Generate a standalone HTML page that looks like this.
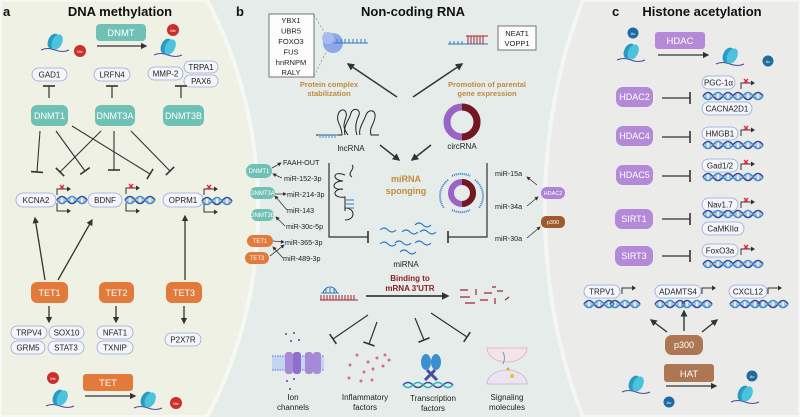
<!DOCTYPE html>
<html><head><meta charset="utf-8"><style>
html,body{margin:0;padding:0;background:#fff;width:800px;height:417px;overflow:hidden}
svg{display:block;font-family:"Liberation Sans",sans-serif}
</style></head><body>
<svg width="800" height="417" viewBox="0 0 800 417" xmlns="http://www.w3.org/2000/svg" overflow="hidden">
<defs>
<marker id="ar" viewBox="0 0 10 10" refX="8" refY="5" markerWidth="5" markerHeight="5" orient="auto"><path d="M0,0L10,5L0,10z" fill="#333"/></marker>
<marker id="tb" viewBox="0 0 4 12" refX="2" refY="6" markerWidth="4" markerHeight="12" markerUnits="userSpaceOnUse" orient="auto"><path d="M2,0V12" stroke="#333" stroke-width="1.6"/></marker>
<g id="dna"><path d="M0,0q5,-7 10,0t10,0t10,0" fill="none" stroke="#2d4f9e" stroke-width="1.6"/><path d="M0,0q5,7 10,0t10,0t10,0" fill="none" stroke="#3e8bd0" stroke-width="1.6"/><path d="M3,-2v4M7,-2v4M13,-2v4M17,-2v4M23,-2v4M27,-2v4" stroke="#5a86c8" stroke-width="0.8"/></g>
<g id="prom"><path d="M0,6V0h10" fill="none" stroke="#333" stroke-width="1"/><path d="M10,-2.5L14,0L10,2.5z" fill="#333"/></g>
<g id="promx"><use href="#prom"/><path d="M3,-4l4,4M7,-4l-4,4" stroke="#e23" stroke-width="1.3"/></g>
<g id="nuc"><path d="M-14,8q6,-3 14,0t14,0" fill="none" stroke="#4a4aa0" stroke-width="1"/><ellipse cx="-2" cy="0" rx="5" ry="8" fill="#2a9bc0" transform="rotate(25)"/><ellipse cx="2" cy="-1" rx="5" ry="8" fill="#4cc3dc" transform="rotate(25)"/></g>
</defs>

<rect width="800" height="417" fill="#e5ecea"/>
<path d="M0,0H207A349,400 0 0 1 207,417H0Z" fill="#eff1e4" stroke="#f6f8f3" stroke-width="4"/>
<path d="M800,0H583A260,400 0 0 0 583,417H800Z" fill="#ebebea" stroke="#f4f6f4" stroke-width="4"/>

<text x="3" y="16" font-size="13" font-weight="bold" fill="#111">a</text>
<text x="120" y="16" font-size="13" font-weight="bold" fill="#111" text-anchor="middle">DNA methylation</text>
<use href="#nuc" x="55" y="42"/><circle cx="80" cy="51" r="6" fill="#c9302c"/><text x="80" y="53" font-size="4" fill="#fff" text-anchor="middle">Me</text>
<rect x="96" y="24" width="50" height="17" rx="4" fill="#6fc1b5"/><text x="121" y="36" font-size="9.5" fill="#fff" text-anchor="middle">DNMT</text>
<line x1="97" y1="46" x2="146" y2="46" stroke="#333" stroke-width="1.3" marker-end="url(#ar)"/>
<use href="#nuc" x="168" y="47"/><circle cx="173" cy="30" r="6" fill="#c9302c"/><text x="173" y="32" font-size="4" fill="#fff" text-anchor="middle">Me</text>

<g font-size="8" fill="#222" text-anchor="middle">
<rect x="32" y="68" width="35" height="13" rx="6.5" fill="#f3f5fa" stroke="#97a8d8" stroke-width="0.8"/><text x="49.5" y="77.5">GAD1</text>
<rect x="94" y="68" width="36" height="13" rx="6.5" fill="#f3f5fa" stroke="#97a8d8" stroke-width="0.8"/><text x="112" y="77.5">LRFN4</text>
<rect x="148" y="67" width="35" height="13" rx="6.5" fill="#f3f5fa" stroke="#97a8d8" stroke-width="0.8"/><text x="165.5" y="76.5">MMP-2</text>
<rect x="184" y="61" width="34" height="12" rx="6" fill="#f3f5fa" stroke="#97a8d8" stroke-width="0.8"/><text x="201" y="70">TRPA1</text>
<rect x="184" y="75" width="34" height="12" rx="6" fill="#f3f5fa" stroke="#97a8d8" stroke-width="0.8"/><text x="201" y="84">PAX6</text>
</g>
<g stroke="#333" stroke-width="1.2">
<line x1="49" y1="98" x2="49" y2="86" marker-end="url(#tb)"/>
<line x1="112" y1="98" x2="112" y2="86" marker-end="url(#tb)"/>
<line x1="181" y1="98" x2="181" y2="86" marker-end="url(#tb)"/>
</g>
<g font-size="9" fill="#fff" text-anchor="middle">
<rect x="31" y="105" width="37" height="21" rx="6" fill="#6fc1b5"/><text x="49.5" y="119">DNMT1</text>
<rect x="95" y="105" width="40" height="21" rx="6" fill="#6fc1b5"/><text x="115" y="119">DNMT3A</text>
<rect x="163" y="105" width="41" height="21" rx="6" fill="#6fc1b5"/><text x="183.5" y="119">DNMT3B</text>
</g>
<g stroke="#333" stroke-width="1.1">
<line x1="40" y1="131" x2="37" y2="172" marker-end="url(#tb)"/>
<line x1="56" y1="131" x2="85" y2="171" marker-end="url(#tb)"/>
<line x1="72" y1="126" x2="150" y2="174" marker-end="url(#tb)"/>
<line x1="101" y1="131" x2="60" y2="172" marker-end="url(#tb)"/>
<line x1="114" y1="131" x2="114" y2="170" marker-end="url(#tb)"/>
<line x1="131" y1="131" x2="170" y2="171" marker-end="url(#tb)"/>
</g>
<g font-size="8" fill="#222" text-anchor="middle">
<rect x="16" y="193" width="40" height="14" rx="7" fill="#f3f5fa" stroke="#97a8d8" stroke-width="0.8"/><text x="36" y="203">KCNA2</text>
<rect x="88" y="193" width="34" height="14" rx="7" fill="#f3f5fa" stroke="#97a8d8" stroke-width="0.8"/><text x="105" y="203">BDNF</text>
<rect x="163" y="193" width="40" height="14" rx="7" fill="#f3f5fa" stroke="#97a8d8" stroke-width="0.8"/><text x="183" y="203">OPRM1</text>
</g>
<use href="#dna" x="57" y="200"/><use href="#promx" x="57" y="189"/><path d="M57,203v8h10" stroke="#333" fill="none"/><path d="M67,208.5L71,211L67,213.5z" fill="#333"/>
<use href="#dna" x="125" y="200"/><use href="#promx" x="126" y="188"/><path d="M126,203v8h10" stroke="#333" fill="none"/><path d="M136,208.5L140,211L136,213.5z" fill="#333"/>
<use href="#dna" x="202" y="201"/><use href="#promx" x="204" y="189"/><path d="M204,204v8h10" stroke="#333" fill="none"/><path d="M214,209.5L218,212L214,214.5z" fill="#333"/>
<g stroke="#333" stroke-width="1.3">
<line x1="45" y1="280" x2="35" y2="218" marker-end="url(#ar)"/>
<line x1="58" y1="280" x2="92" y2="220" marker-end="url(#ar)"/>
<line x1="185" y1="280" x2="185" y2="216" marker-end="url(#ar)"/>
<line x1="49" y1="306" x2="49" y2="322" marker-end="url(#ar)"/>
<line x1="116" y1="306" x2="116" y2="322" marker-end="url(#ar)"/>
<line x1="184" y1="306" x2="184" y2="323" marker-end="url(#ar)"/>
</g>
<g font-size="9" fill="#fff" text-anchor="middle">
<rect x="31" y="282" width="37" height="21" rx="6" fill="#e27a3b"/><text x="49.5" y="296">TET1</text>
<rect x="99" y="282" width="35" height="21" rx="6" fill="#e27a3b"/><text x="116.5" y="296">TET2</text>
<rect x="166" y="282" width="36" height="21" rx="6" fill="#e27a3b"/><text x="184" y="296">TET3</text>
</g>
<g font-size="8" fill="#222" text-anchor="middle">
<rect x="11" y="326" width="36" height="13" rx="6.5" fill="#f3f5fa" stroke="#97a8d8" stroke-width="0.8"/><text x="29" y="335.5">TRPV4</text>
<rect x="49" y="326" width="35" height="13" rx="6.5" fill="#f3f5fa" stroke="#97a8d8" stroke-width="0.8"/><text x="66.5" y="335.5">SOX10</text>
<rect x="11" y="341" width="34" height="13" rx="6.5" fill="#f3f5fa" stroke="#97a8d8" stroke-width="0.8"/><text x="28" y="350.5">GRM5</text>
<rect x="48" y="341" width="36" height="13" rx="6.5" fill="#f3f5fa" stroke="#97a8d8" stroke-width="0.8"/><text x="66" y="350.5">STAT3</text>
<rect x="97" y="326" width="36" height="13" rx="6.5" fill="#f3f5fa" stroke="#97a8d8" stroke-width="0.8"/><text x="115" y="335.5">NFAT1</text>
<rect x="97" y="341" width="36" height="13" rx="6.5" fill="#f3f5fa" stroke="#97a8d8" stroke-width="0.8"/><text x="115" y="350.5">TXNIP</text>
<rect x="165" y="333" width="36" height="13" rx="6.5" fill="#f3f5fa" stroke="#97a8d8" stroke-width="0.8"/><text x="183" y="342.5">P2X7R</text>
</g>
<use href="#nuc" x="60" y="398"/><circle cx="53" cy="378" r="6" fill="#c9302c"/><text x="53" y="380" font-size="4" fill="#fff" text-anchor="middle">Me</text>
<rect x="83" y="374" width="50" height="17" rx="3" fill="#e27a3b"/><text x="108" y="386" font-size="9.5" fill="#fff" text-anchor="middle">TET</text>
<line x1="85" y1="396" x2="135" y2="396" stroke="#333" stroke-width="1.3" marker-end="url(#ar)"/>
<use href="#nuc" x="148" y="400"/><circle cx="176" cy="403" r="6" fill="#c9302c"/><text x="176" y="405" font-size="4" fill="#fff" text-anchor="middle">Me</text>

<text x="236" y="16" font-size="13" font-weight="bold" fill="#111">b</text>
<text x="413" y="16" font-size="13" font-weight="bold" fill="#111" text-anchor="middle">Non-coding RNA</text>
<rect x="269" y="14" width="45" height="63" fill="#fbfcfb" stroke="#555" stroke-width="0.8"/>
<g font-size="7.5" fill="#222" text-anchor="middle"><text x="291" y="23">YBX1</text><text x="291" y="33.5">UBR5</text><text x="291" y="44">FOXO3</text><text x="291" y="54.5">FUS</text><text x="291" y="65">hnRNPM</text><text x="291" y="75">RALY</text></g>
<path d="M314,15L326,35M314,76L326,52" stroke="#888" stroke-dasharray="2,2" stroke-width="0.7"/>
<circle cx="333" cy="43" r="10" fill="#8fa7e8"/><circle cx="328" cy="38" r="6" fill="#a8bbf0"/>
<path d="M334,43h34M337,43v-4M341,43v-4M345,43v-4M349,43v-4M353,43v-4M357,43v-4M361,43v-4M365,43v-4" stroke="#2f7cc0" stroke-width="1"/>
<rect x="498" y="26" width="38" height="24" fill="#fbfcfb" stroke="#555" stroke-width="0.8"/>
<text x="517" y="36" font-size="7.5" fill="#222" text-anchor="middle">NEAT1</text><text x="517" y="46" font-size="7.5" fill="#222" text-anchor="middle">VOPP1</text>
<path d="M448,44h40M450,44v-3M454,44v-3M458,44v-3M462,44v-3" stroke="#2f7cc0" stroke-width="1"/>
<path d="M466,36h22M468,36v8M471,36v8M474,36v8M477,36v8M480,36v8M483,36v8" stroke="#a42430" stroke-width="1"/>
<g font-size="7.5" font-weight="bold" fill="#c28b3c" text-anchor="middle"><text x="329" y="87">Protein complex</text><text x="329" y="96">stabilization</text><text x="487" y="87">Promotion of parental</text><text x="487" y="96">gene expression</text></g>
<g stroke="#333" stroke-width="1.5">
<line x1="397" y1="97" x2="348" y2="64" marker-end="url(#ar)"/>
<line x1="413" y1="97" x2="462" y2="64" marker-end="url(#ar)"/>
<line x1="380" y1="145" x2="399" y2="160" marker-end="url(#ar)"/>
<line x1="431" y1="145" x2="412" y2="160" marker-end="url(#ar)"/>
</g>
<g fill="none" stroke="#222" stroke-width="1">
<path d="M316,135h26c0,-10 -6,-12 -4,-20c2,-8 10,-6 8,2c-2,6 -4,10 2,18M345,135c-2,-10 4,-14 6,-22c2,-6 10,-4 8,2c-4,8 -4,14 -2,20M360,135c-2,-6 4,-14 6,-20c2,-6 10,-6 9,2c-1,8 -6,10 -4,18h8"/>
</g>
<path d="M318,135h20M320,135v3M323,135v3M326,135v3M329,135v3M332,135v3M335,135v3" stroke="#2f7cc0" stroke-width="0.8"/>
<text x="351" y="151" font-size="8" fill="#222" text-anchor="middle">lncRNA</text>
<circle cx="462" cy="122" r="15" fill="none" stroke="#9a63c8" stroke-width="7"/>
<path d="M462,107a15,15 0 0 1 0,30" fill="none" stroke="#741820" stroke-width="7"/>
<text x="462" y="149" font-size="8" fill="#222" text-anchor="middle">circRNA</text>
<text x="406" y="182" font-size="9" font-weight="bold" fill="#c28b3c" text-anchor="middle">miRNA</text>
<text x="406" y="194" font-size="9" font-weight="bold" fill="#c28b3c" text-anchor="middle">sponging</text>
<path d="M345,175c-12,-5 -14,5 -2,6c-12,0 -12,10 0,8c-12,0 -10,10 2,8v14M345,198v10c4,0 8,2 8,6c0,4 -4,6 -8,6M352,165c4,4 -6,8 0,12" fill="none" stroke="#222" stroke-width="1"/>
<path d="M346,200h8M346,204h8M346,208h8" stroke="#2f7cc0" stroke-width="1"/>
<circle cx="462" cy="193" r="11" fill="none" stroke="#9a63c8" stroke-width="6"/>
<path d="M462,182a11,11 0 0 1 0,22" fill="none" stroke="#741820" stroke-width="6"/>
<path d="M448,180a20,20 0 0 0 -4,28M475,180a20,20 0 0 1 4,28M452,176a20,20 0 0 1 18,0M452,210a20,20 0 0 0 18,0" fill="none" stroke="#2f7cc0" stroke-width="2" stroke-dasharray="1,1"/>
<g fill="none" stroke="#333" stroke-width="1.2">
<path d="M329,163V237H368" marker-end="url(#tb)"/>
<path d="M487,163V237H448" marker-end="url(#tb)"/>
</g>
<g fill="none" stroke="#2f7cc0" stroke-width="1.1">
<path d="M380,230q4,-4 8,0t8,0M395,243q4,-4 8,0t8,0M402,232q4,-4 8,0t8,0M415,243q4,-4 8,0t8,0M380,244q4,-4 8,0t8,0M400,252q4,-4 8,0t8,0M415,225q4,-4 8,0t8,0M420,232q4,-4 8,0t8,0"/>
</g>
<text x="406" y="267" font-size="8" fill="#222" text-anchor="middle">miRNA</text>
<g font-size="6" fill="#fff" text-anchor="middle">
<rect x="246" y="164" width="26" height="14" rx="7" fill="#6fc1b5"/><text x="259" y="173">DNMT1</text>
<rect x="250" y="187" width="25" height="12" rx="6" fill="#6fc1b5"/><text x="262.5" y="195">DNMT3A</text>
<rect x="251" y="209" width="23" height="12" rx="6" fill="#6fc1b5"/><text x="262.5" y="217">DNMT3B</text>
<rect x="247" y="235" width="26" height="12" rx="6" fill="#e27a3b"/><text x="260" y="243">TET1</text>
<rect x="245" y="252" width="24" height="12" rx="6" fill="#e27a3b"/><text x="257" y="260">TET3</text>
</g>
<g font-size="7.2" fill="#222">
<text x="283" y="165">FAAH-OUT</text><text x="284" y="181">miR-152-3p</text><text x="287" y="197">miR-214-3p</text><text x="287" y="213">miR-143</text><text x="286" y="229">miR-30c-5p</text><text x="285" y="245">miR-365-3p</text><text x="283" y="261">miR-489-3p</text>
<text x="495" y="176">miR-15a</text><text x="495" y="209">miR-34a</text><text x="495" y="241">miR-30a</text>
</g>
<g stroke="#333" stroke-width="0.8">
<line x1="272" y1="168" x2="281" y2="163" marker-end="url(#ar)"/>
<line x1="282" y1="178" x2="273" y2="174" marker-end="url(#ar)"/>
<line x1="275" y1="194" x2="286" y2="194" marker-end="url(#ar)"/>
<line x1="287" y1="210" x2="275" y2="196" marker-end="url(#ar)"/>
<line x1="285" y1="226" x2="276" y2="217" marker-end="url(#ar)"/>
<line x1="273" y1="241" x2="284" y2="242" marker-end="url(#ar)"/>
<line x1="283" y1="258" x2="273" y2="247" marker-end="url(#ar)"/>
<line x1="270" y1="256" x2="284" y2="245" marker-end="url(#ar)"/>
<line x1="537" y1="185" x2="527" y2="177" marker-end="url(#ar)"/>
<line x1="527" y1="206" x2="538" y2="197" marker-end="url(#ar)"/>
<line x1="527" y1="238" x2="540" y2="227" marker-end="url(#ar)"/>
</g>
<rect x="541" y="187" width="24" height="12" rx="6" fill="#b083d6"/><text x="553" y="195" font-size="5.5" fill="#fff" text-anchor="middle">HDAC2</text>
<rect x="541" y="216" width="24" height="12" rx="5" fill="#9e5c2e"/><text x="553" y="224" font-size="5.5" fill="#fff" text-anchor="middle">p300</text>
<text x="410" y="281" font-size="8" font-weight="bold" fill="#8e1f22" text-anchor="middle">Binding to</text>
<text x="410" y="291" font-size="8" font-weight="bold" fill="#8e1f22" text-anchor="middle">mRNA 3'UTR</text>
<path d="M320,300h38M321,300v-5M324,300v-5M327,300v-5M330,300v-5M333,300v-5M336,300v-5M339,300v-5M342,300v-5M345,300v-5M348,300v-5M351,300v-5M354,300v-5" stroke="#a42430" stroke-width="1"/>
<path d="M321,293h18M323,293c2,-8 12,-8 14,0M326,293v-4M330,293v-5M334,293v-4" stroke="#2f7cc0" stroke-width="1" fill="none"/>
<line x1="366" y1="296" x2="448" y2="296" stroke="#222" stroke-width="1.5" marker-end="url(#ar)"/>
<g stroke="#a42430" stroke-width="1.2" fill="none">
<path d="M460,290h8M460,297h10M465,303h10M476,289v6M480,300h8M484,293h8M492,287h4M495,298v6M505,300l4,-3M497,291h6"/>
</g>
<g stroke="#333" stroke-width="1.2">
<line x1="368" y1="315" x2="333" y2="339" marker-end="url(#tb)"/>
<line x1="377" y1="322" x2="369" y2="344" marker-end="url(#tb)"/>
<line x1="415" y1="318" x2="424" y2="340" marker-end="url(#tb)"/>
<line x1="431" y1="313" x2="467" y2="337" marker-end="url(#tb)"/>
</g>
<rect x="272" y="356" width="52" height="14" fill="#c3d5f0"/>
<path d="M272,356h52M272,370h52" stroke="#6b8fd6" stroke-width="1.2" stroke-dasharray="1.5,1"/>
<rect x="285" y="352" width="8" height="22" rx="3" fill="#a78ad6"/><rect x="293" y="352" width="8" height="22" rx="3" fill="#8f6fcc"/>
<rect x="305" y="352" width="8" height="22" rx="3" fill="#a78ad6"/><rect x="313" y="352" width="8" height="22" rx="3" fill="#a78ad6"/>
<g fill="#5a3fa8"><circle cx="286" cy="334" r="1"/><circle cx="294" cy="333" r="1"/><circle cx="291" cy="341" r="1"/><circle cx="299" cy="340" r="1"/><circle cx="287" cy="381" r="1"/><circle cx="294" cy="379" r="1"/><circle cx="290" cy="389" r="1"/></g>
<text x="293" y="400" font-size="8" fill="#222" text-anchor="middle">Ion</text><text x="293" y="410" font-size="8" fill="#222" text-anchor="middle">channels</text>
<g fill="#e0678a"><circle cx="357" cy="355" r="1.5"/><circle cx="368" cy="362" r="1.5"/><circle cx="377" cy="358" r="1.5"/><circle cx="385" cy="355" r="1.5"/><circle cx="350" cy="365" r="1.5"/><circle cx="364" cy="372" r="1.5"/><circle cx="373" cy="369" r="1.5"/><circle cx="383" cy="366" r="1.5"/><circle cx="389" cy="360" r="1.5"/><circle cx="349" cy="378" r="1.5"/><circle cx="361" cy="381" r="1.5"/><circle cx="372" cy="380" r="1.5"/></g>
<text x="365" y="400" font-size="8" fill="#222" text-anchor="middle">Inflammatory</text><text x="365" y="410" font-size="8" fill="#222" text-anchor="middle">factors</text>
<ellipse cx="426" cy="362" rx="5" ry="8" fill="#3a8fd0"/><ellipse cx="436" cy="362" rx="5" ry="8" fill="#3a8fd0"/>
<path d="M427,370l10,10M435,370l-10,10" stroke="#4a4aa0" stroke-width="3"/>
<path d="M403,385q5,-5 10,0t10,0t10,0t10,0t10,0" stroke="#2d4f9e" fill="none" stroke-width="1.5"/><path d="M403,385q5,5 10,0t10,0t10,0t10,0t10,0" stroke="#26b5c0" fill="none" stroke-width="1.5"/>
<text x="433" y="401" font-size="8" fill="#222" text-anchor="middle">Transcription</text><text x="433" y="411" font-size="8" fill="#222" text-anchor="middle">factors</text>
<path d="M487,348a20,14 0 0 0 40,0z" fill="#f4e4e8" stroke="#e0b0b8" stroke-width="0.8"/>
<path d="M487,384a20,14 0 0 1 40,0z" fill="#ece4f0" stroke="#c8b4dc" stroke-width="0.8"/>
<path d="M503,352q3,6 0,12" stroke="#6a9ad0" fill="none"/><circle cx="508" cy="369" r="1.5" fill="#e8a040"/><circle cx="512" cy="376" r="2" fill="#e8c040"/>
<text x="507" y="400" font-size="8" fill="#222" text-anchor="middle">Signaling</text><text x="507" y="410" font-size="8" fill="#222" text-anchor="middle">molecules</text>

<text x="612" y="16" font-size="13" font-weight="bold" fill="#111">c</text>
<text x="702" y="16" font-size="13" font-weight="bold" fill="#111" text-anchor="middle">Histone acetylation</text>
<use href="#nuc" x="631" y="52"/><circle cx="633" cy="33" r="5.5" fill="#1f6aa0"/><text x="633" y="35" font-size="4" fill="#fff" text-anchor="middle">Ac</text>
<rect x="655" y="32" width="50" height="17" rx="3" fill="#b48ad8"/><text x="680" y="44" font-size="9.5" fill="#fff" text-anchor="middle">HDAC</text>
<line x1="658" y1="55" x2="708" y2="55" stroke="#333" stroke-width="1.3" marker-end="url(#ar)"/>
<use href="#nuc" x="730" y="56"/><circle cx="768" cy="61" r="5.5" fill="#1f6aa0"/><text x="768" y="63" font-size="4" fill="#fff" text-anchor="middle">Ac</text>
<g font-size="9" fill="#fff" text-anchor="middle">
<rect x="616" y="87" width="37" height="20" rx="7" fill="#b48ad8"/><text x="634.5" y="100">HDAC2</text>
<rect x="616" y="126" width="37" height="20" rx="7" fill="#b48ad8"/><text x="634.5" y="139">HDAC4</text>
<rect x="616" y="165" width="37" height="20" rx="7" fill="#b48ad8"/><text x="634.5" y="178">HDAC5</text>
<rect x="615" y="209" width="38" height="20" rx="7" fill="#b48ad8"/><text x="634" y="222">SIRT1</text>
<rect x="615" y="246" width="38" height="20" rx="7" fill="#b48ad8"/><text x="634" y="259">SIRT3</text>
</g>
<g stroke="#333" stroke-width="1.2">
<line x1="662" y1="98" x2="690" y2="98" marker-end="url(#tb)"/>
<line x1="662" y1="137" x2="690" y2="137" marker-end="url(#tb)"/>
<line x1="662" y1="176" x2="690" y2="176" marker-end="url(#tb)"/>
<line x1="662" y1="219" x2="690" y2="219" marker-end="url(#tb)"/>
<line x1="662" y1="256" x2="690" y2="256" marker-end="url(#tb)"/>
</g>
<g font-size="8" fill="#222" text-anchor="middle">
<rect x="702" y="76" width="33" height="13" rx="6.5" fill="#f3f5fa" stroke="#97a8d8" stroke-width="0.8"/><text x="718.5" y="85.5">PGC-1α</text>
<rect x="702" y="102" width="50" height="13" rx="6.5" fill="#f3f5fa" stroke="#97a8d8" stroke-width="0.8"/><text x="727" y="111.5">CACNA2D1</text>
<rect x="702" y="127" width="36" height="13" rx="6.5" fill="#f3f5fa" stroke="#97a8d8" stroke-width="0.8"/><text x="720" y="136.5">HMGB1</text>
<rect x="702" y="159" width="36" height="13" rx="6.5" fill="#f3f5fa" stroke="#97a8d8" stroke-width="0.8"/><text x="720" y="168.5">Gad1/2</text>
<rect x="702" y="198" width="36" height="13" rx="6.5" fill="#f3f5fa" stroke="#97a8d8" stroke-width="0.8"/><text x="720" y="207.5">Nav1.7</text>
<rect x="702" y="222" width="42" height="13" rx="6.5" fill="#f3f5fa" stroke="#97a8d8" stroke-width="0.8"/><text x="723" y="231.5">CaMKIIα</text>
<rect x="702" y="244" width="36" height="13" rx="6.5" fill="#f3f5fa" stroke="#97a8d8" stroke-width="0.8"/><text x="720" y="253.5">FoxO3a</text>
<rect x="584" y="285" width="36" height="13" rx="6.5" fill="#f3f5fa" stroke="#97a8d8" stroke-width="0.8"/><text x="602" y="294.5">TRPV1</text>
<rect x="655" y="285" width="46" height="13" rx="6.5" fill="#f3f5fa" stroke="#97a8d8" stroke-width="0.8"/><text x="678" y="294.5">ADAMTS4</text>
<rect x="729" y="285" width="38" height="13" rx="6.5" fill="#f3f5fa" stroke="#97a8d8" stroke-width="0.8"/><text x="748" y="294.5">CXCL12</text>
</g>
<use href="#dna" x="703" y="96"/><use href="#dna" x="733" y="96"/><use href="#promx" x="741" y="83"/>
<use href="#dna" x="703" y="145"/><use href="#dna" x="733" y="145"/><use href="#promx" x="741" y="130"/>
<use href="#dna" x="703" y="177"/><use href="#dna" x="733" y="177"/><use href="#promx" x="741" y="164"/>
<use href="#dna" x="703" y="214"/><use href="#dna" x="733" y="214"/><use href="#promx" x="741" y="202"/>
<use href="#dna" x="703" y="264"/><use href="#dna" x="733" y="264"/><use href="#promx" x="741" y="249"/>
<use href="#dna" x="584" y="304"/><use href="#dna" x="610" y="304"/><use href="#prom" x="622" y="288"/>
<use href="#dna" x="655" y="304"/><use href="#dna" x="682" y="304"/><use href="#prom" x="702" y="288"/>
<use href="#dna" x="730" y="304"/><use href="#dna" x="758" y="304"/><use href="#prom" x="768" y="288"/>
<g stroke="#333" stroke-width="1.4">
<line x1="667" y1="332" x2="651" y2="320" marker-end="url(#ar)"/>
<line x1="684" y1="331" x2="684" y2="311" marker-end="url(#ar)"/>
<line x1="702" y1="332" x2="717" y2="320" marker-end="url(#ar)"/>
</g>
<rect x="665" y="335" width="38" height="20" rx="7" fill="#ae7753"/><text x="684" y="348" font-size="9" fill="#fff" text-anchor="middle">p300</text>
<rect x="664" y="364" width="50" height="18" rx="3" fill="#ae7753"/><text x="689" y="377" font-size="9.5" fill="#fff" text-anchor="middle">HAT</text>
<line x1="666" y1="386" x2="716" y2="386" stroke="#333" stroke-width="1.3" marker-end="url(#ar)"/>
<use href="#nuc" x="636" y="384"/><circle cx="669" cy="402" r="5.5" fill="#1f6aa0"/><text x="669" y="404" font-size="4" fill="#fff" text-anchor="middle">Ac</text>
<use href="#nuc" x="745" y="394"/><circle cx="752" cy="376" r="5.5" fill="#1f6aa0"/><text x="752" y="378" font-size="4" fill="#fff" text-anchor="middle">Ac</text>
</svg>
</body></html>
